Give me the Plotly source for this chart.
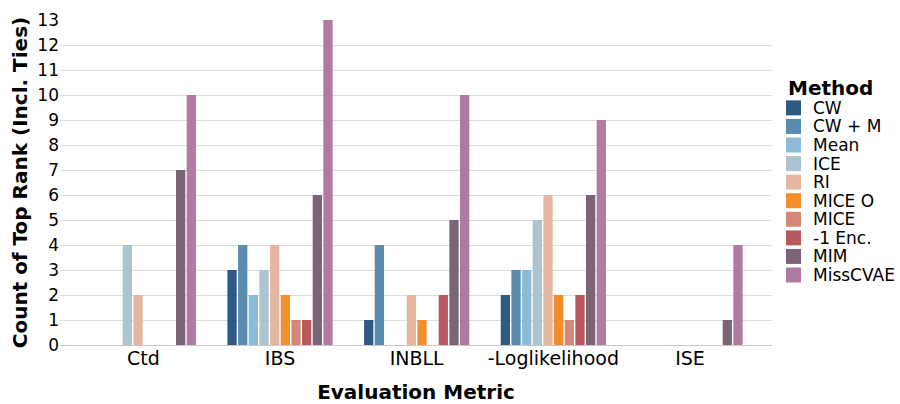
import plotly.graph_objects as go

categories = ["Ctd", "IBS", "INBLL", "-Loglikelihood", "ISE"]
methods = ["CW", "CW + M", "Mean", "ICE", "RI", "MICE O", "MICE", "-1 Enc.", "MIM", "MissCVAE"]
values = {
    "CW":       [0, 3, 1, 2, 0],
    "CW + M":   [0, 4, 4, 3, 0],
    "Mean":     [0, 2, 0, 3, 0],
    "ICE":      [4, 3, 0, 5, 0],
    "RI":       [2, 4, 2, 6, 0],
    "MICE O":   [0, 2, 1, 2, 0],
    "MICE":     [0, 1, 0, 1, 0],
    "-1 Enc.":  [0, 1, 2, 2, 0],
    "MIM":      [7, 6, 5, 6, 1],
    "MissCVAE": [10, 13, 10, 9, 4],
}
colors = ["#2f5985", "#5b8caf", "#8cbbd8", "#adc3d0", "#e6b7a0",
          "#f28e2b", "#d6877a", "#b85a5d", "#7b6476", "#b07aa1"]
yticks = list(range(0, 14))

FONT = "DejaVu Sans"
W, H = 900, 404
L, R, T, B = 60, 128, 19.5, 59
PW, PH = W - L - R, H - T - B

def px_x(px):
    return (px - L) / PW

def px_y(py):
    return (H - B - py) / PH

fig = go.Figure()
for m, c in zip(methods, colors):
    fig.add_trace(go.Bar(name=m, x=categories, y=values[m],
                         marker=dict(color=c, line=dict(width=0)), showlegend=False))

# custom legend (compact spacing like the reference)
annotations = [dict(text="<b>Method</b>", x=px_x(786), y=px_y(88), xref="paper", yref="paper",
                    xanchor="left", yanchor="middle", showarrow=False,
                    font=dict(family=FONT, size=20, color="black"))]
shapes = []
for i, (m, c) in enumerate(zip(methods, colors)):
    cy = 107.5 + i * 18.6
    shapes.append(dict(type="rect", xref="paper", yref="paper",
                       x0=px_x(786), x1=px_x(801), y0=px_y(cy - 7.5), y1=px_y(cy + 7.5),
                       fillcolor=c, line=dict(width=0)))
    annotations.append(dict(text=m, x=px_x(811), y=px_y(cy), xref="paper", yref="paper",
                            xanchor="left", yanchor="middle", showarrow=False,
                            font=dict(family=FONT, size=17, color="black")))

fig.update_layout(
    barmode="group",
    bargap=0.22,
    bargroupgap=0.13,
    width=W, height=H,
    margin=dict(l=L, r=R, t=T, b=B),
    plot_bgcolor="white", paper_bgcolor="white",
    font=dict(family=FONT, size=17, color="black"),
    showlegend=False,
    annotations=annotations,
    shapes=shapes,
)
fig.update_xaxes(
    range=[-0.61, 4.6], automargin=False,
    showgrid=False, showline=False, ticks="",
    tickfont=dict(size=19),
    title=dict(text="<b>Evaluation Metric</b>", font=dict(size=20), standoff=20),
)
fig.update_yaxes(
    range=[0, 13], tickvals=yticks, automargin=False,
    showgrid=True, gridcolor="#dddddd", gridwidth=1,
    zeroline=True, zerolinecolor="#c8c8c8", zerolinewidth=1,
    showline=False, ticks="",
    tickfont=dict(size=17),
    title=dict(text="<b>Count of Top Rank (Incl. Ties)</b>", font=dict(size=20), standoff=4),
)
fig.write_html("out.html", config={"displayModeBar": False},
               post_script="document.body.style.margin='0';")
